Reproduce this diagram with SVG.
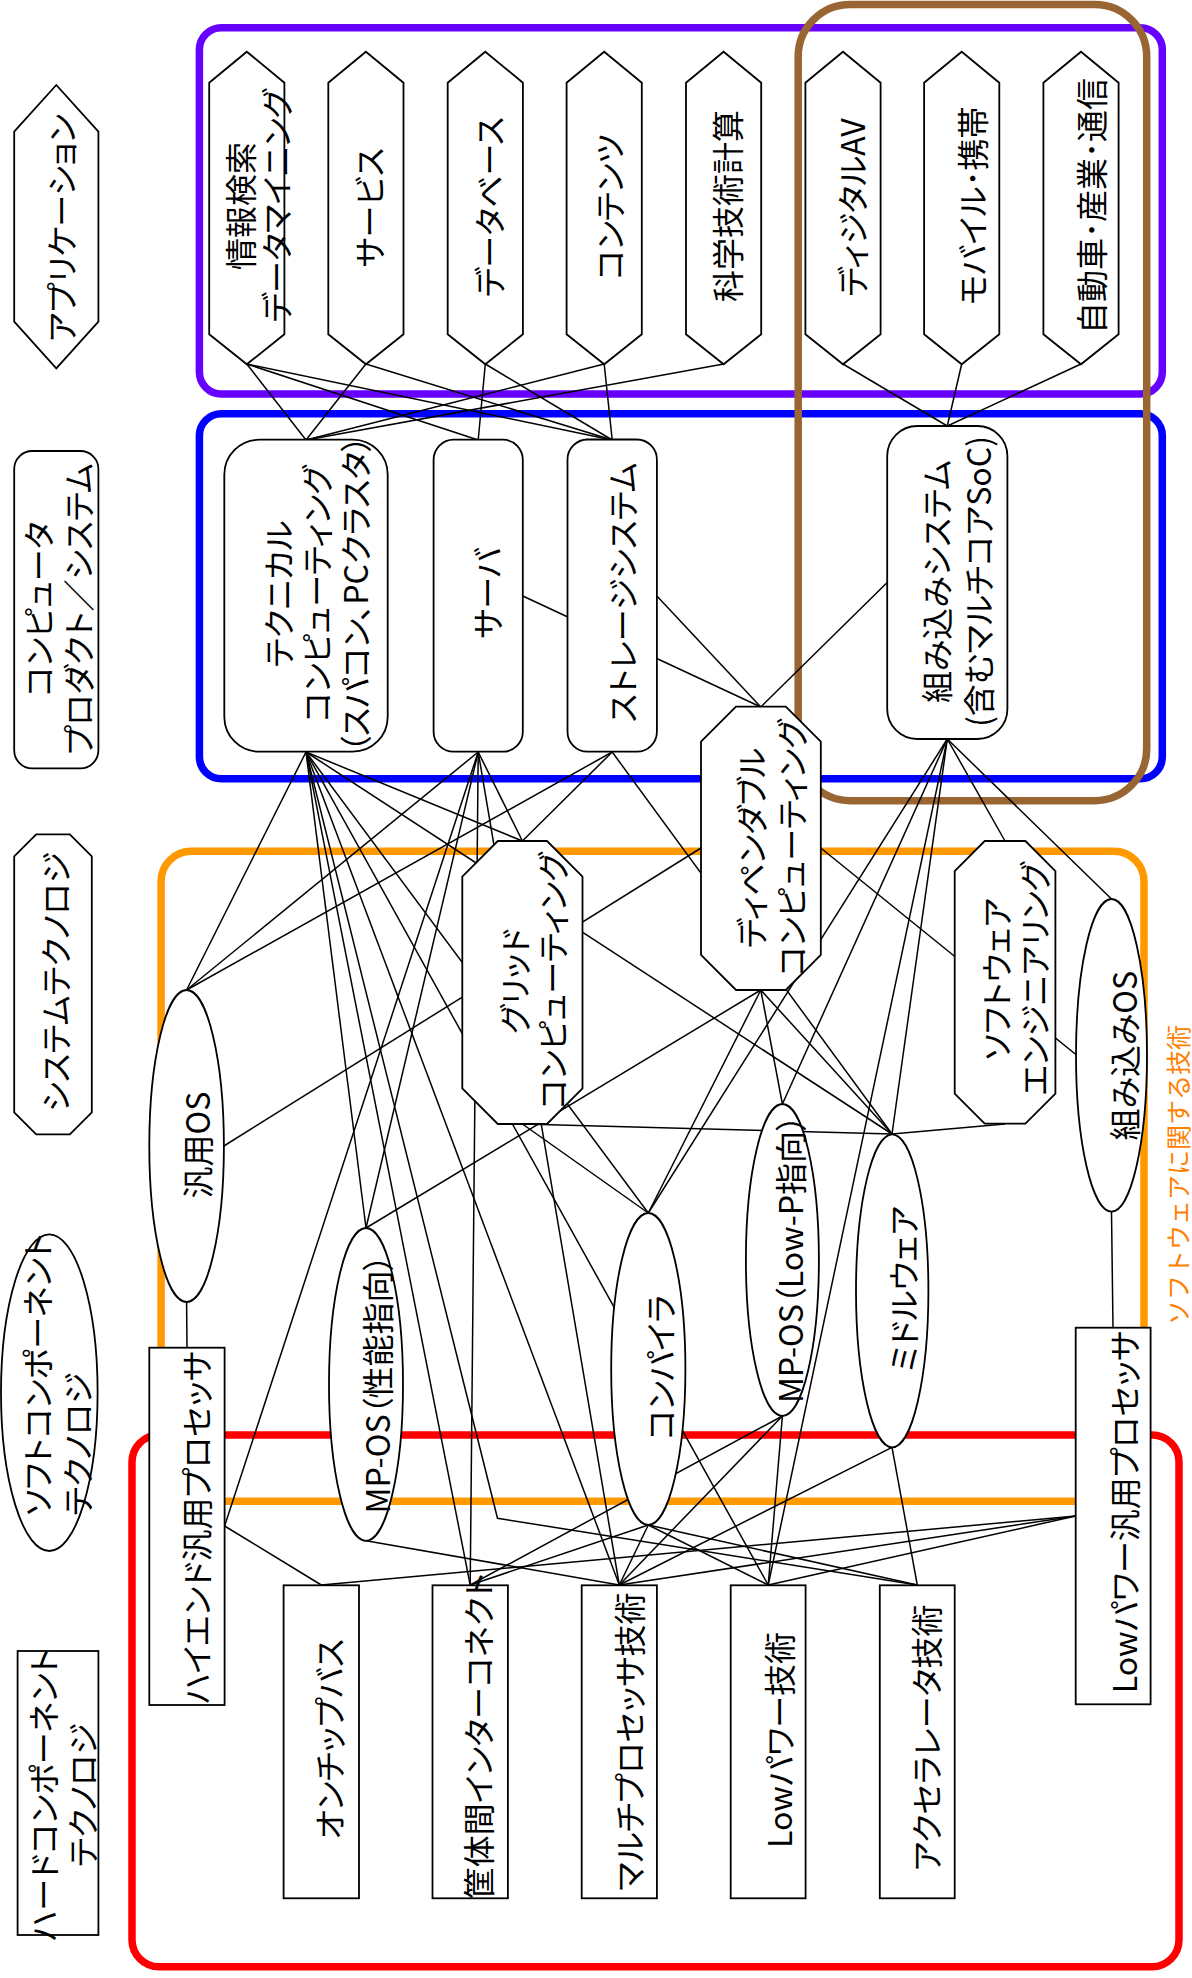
<svg xmlns="http://www.w3.org/2000/svg" width="1192" height="1978" viewBox="0 0 1192 1978">
<style>
.g{fill:none;stroke-width:7.5}
.n{fill:#fff;stroke:#000;stroke-width:1.8}
#connectors line,#connectors polyline{stroke:#000;stroke-width:1.5;fill:none}
text{font-family:"Noto Sans CJK JP","Noto Sans CJK SC",sans-serif;font-size:32px;text-anchor:middle;dominant-baseline:central;font-feature-settings:"palt";fill:#000}
text.o{fill:#FF8000;font-size:25px;font-feature-settings:normal}
</style>
<rect width="1192" height="1978" fill="#fff"/>
<g id="groups">
<rect class="g" x="199.4" y="27.7" width="962.9" height="366.3" rx="22" stroke="#6600FF"/>
<rect class="g" x="199.4" y="413.7" width="962.9" height="365.1" rx="22" stroke="#0000FF"/>
<rect class="g" x="161.1" y="851.3" width="982.9" height="650" rx="30" stroke="#FF9900"/>
<rect class="g" x="132" y="1435" width="1047" height="531.7" rx="27" stroke="#FF0000"/>
<rect class="g" x="798.2" y="4.5" width="348.5" height="796.2" rx="52" stroke="#996633"/>
<text class="o" transform="translate(1177,1175) rotate(-90)">ソフトウェアに関する技術</text>
</g>
<g id="connectors">
<line x1="246.8" y1="364" x2="306" y2="440"/>
<line x1="246.8" y1="364" x2="478.2" y2="440"/>
<line x1="246.8" y1="364" x2="612.2" y2="440"/>
<line x1="365.9" y1="364" x2="306" y2="440"/>
<line x1="365.9" y1="364" x2="612.2" y2="440"/>
<line x1="485.3" y1="364" x2="478.2" y2="440"/>
<line x1="485.3" y1="364" x2="612.2" y2="440"/>
<line x1="604.2" y1="364" x2="306" y2="440"/>
<line x1="604.2" y1="364" x2="612.2" y2="440"/>
<line x1="723.6" y1="364" x2="306" y2="440"/>
<line x1="843" y1="364" x2="947.3" y2="426"/>
<line x1="961.7" y1="364" x2="947.3" y2="426"/>
<line x1="1081" y1="364" x2="947.3" y2="426"/>
<line x1="522.8" y1="596" x2="760.8" y2="707"/>
<line x1="656.9" y1="596" x2="760.8" y2="707"/>
<line x1="887.2" y1="582.5" x2="760.8" y2="707"/>
<line x1="306" y1="752" x2="186.6" y2="990"/>
<line x1="306" y1="752" x2="522.4" y2="841"/>
<line x1="306" y1="752" x2="892" y2="1134"/>
<line x1="306" y1="752" x2="366" y2="1228"/>
<line x1="306" y1="752" x2="470.2" y2="1585"/>
<polyline points="306,752 497.5,1518.3 917.3,1585"/>
<line x1="306" y1="752" x2="619.3" y2="1585"/>
<line x1="306" y1="752" x2="768.2" y2="1585"/>
<line x1="306" y1="752" x2="648.3" y2="1213"/>
<line x1="478.2" y1="752" x2="186.6" y2="990"/>
<line x1="478.2" y1="752" x2="224.6" y2="1526"/>
<line x1="478.2" y1="752" x2="366" y2="1228"/>
<line x1="478.2" y1="752" x2="470.2" y2="1585"/>
<line x1="478.2" y1="752" x2="619.3" y2="1585"/>
<line x1="478.2" y1="752" x2="522.4" y2="841"/>
<line x1="612.2" y1="752" x2="186.6" y2="990"/>
<line x1="612.2" y1="752" x2="522.4" y2="841"/>
<line x1="612.2" y1="752" x2="892" y2="1134"/>
<line x1="947.3" y1="739" x2="648.3" y2="1213"/>
<line x1="947.3" y1="739" x2="782.4" y2="1104"/>
<line x1="947.3" y1="739" x2="768.2" y2="1585"/>
<line x1="947.3" y1="739" x2="892" y2="1134"/>
<line x1="947.3" y1="739" x2="1005" y2="841"/>
<line x1="947.3" y1="739" x2="1111.5" y2="899"/>
<line x1="223.9" y1="1146" x2="701" y2="848"/>
<line x1="820.8" y1="848" x2="1076.5" y2="1055"/>
<line x1="760.8" y1="990" x2="366" y2="1228"/>
<line x1="760.8" y1="990" x2="648.3" y2="1213"/>
<line x1="760.8" y1="990" x2="782.4" y2="1104"/>
<line x1="760.8" y1="990" x2="892" y2="1134"/>
<line x1="522.4" y1="1124" x2="648.3" y2="1213"/>
<line x1="522.4" y1="1124" x2="892" y2="1134"/>
<line x1="1005" y1="1124" x2="892" y2="1134"/>
<line x1="186.6" y1="1302" x2="187" y2="1347.7"/>
<line x1="1111.5" y1="1211.7" x2="1113" y2="1327.7"/>
<line x1="224.6" y1="1526" x2="321.3" y2="1585"/>
<line x1="366" y1="1540.7" x2="619.3" y2="1585"/>
<line x1="648.3" y1="1525" x2="470.2" y2="1585"/>
<line x1="648.3" y1="1525" x2="619.3" y2="1585"/>
<line x1="648.3" y1="1525" x2="768.2" y2="1585"/>
<line x1="648.3" y1="1525" x2="917.3" y2="1585"/>
<line x1="782.4" y1="1416" x2="470.2" y2="1585"/>
<line x1="782.4" y1="1416" x2="619.3" y2="1585"/>
<line x1="782.4" y1="1416" x2="768.2" y2="1585"/>
<line x1="892" y1="1447.3" x2="619.3" y2="1585"/>
<line x1="892" y1="1447.3" x2="917.3" y2="1585"/>
<line x1="1075.7" y1="1516" x2="321.3" y2="1585"/>
<line x1="1075.7" y1="1516" x2="619.3" y2="1585"/>
<line x1="1075.7" y1="1516" x2="768.2" y2="1585"/>
</g>
<g id="nodes">
<g id="label-app"><polygon class="n" points="56.3,85 98.4,131.7 98.4,321.7 56.3,368.3 14.2,321.7 14.2,131.7"/><text transform="translate(60,228) rotate(-90)">アプリケーション</text></g>
<g id="label-product"><rect class="n" x="14.2" y="451" width="84.2" height="317.3" rx="18"/><text transform="translate(57,609) rotate(-90)"><tspan x="0" y="-19.7">コンピュータ</tspan><tspan x="0" y="19.7">プロダクト／システム</tspan></text></g>
<g id="label-system"><polygon class="n" points="36.2,834.3 69.8,834.3 91.8,856.3 91.8,1112.3 69.8,1134.3 36.2,1134.3 14.2,1112.3 14.2,856.3"/><text transform="translate(53.6,982) rotate(-90)">システムテクノロジ</text></g>
<g id="label-soft"><ellipse class="n" cx="49.3" cy="1392.7" rx="48.3" ry="158.3"/><text transform="translate(56,1516) rotate(-90)" style="text-anchor:start"><tspan x="0" y="-19.6">ソフトコンポーネント</tspan><tspan x="0" y="19.6">テクノロジ</tspan></text></g>
<g id="label-hard"><rect class="n" x="17.6" y="1651" width="80.8" height="284"/><text transform="translate(61.7,1795) rotate(-90)"><tspan x="0" y="-19.7">ハードコンポーネント</tspan><tspan x="0" y="19.7">テクノロジ</tspan></text></g>

<g id="app-search"><polygon class="n" points="246.8,51.7 284.4,82.7 284.4,334.3 246.8,364.3 209.2,334.3 209.2,82.7"/><text transform="translate(256.8,206) rotate(-90)"><tspan x="0" y="-17.8">情報検索</tspan><tspan x="0" y="17.8">データマイニング</tspan></text></g>
<g id="app-service"><polygon class="n" points="365.9,51.7 403.5,82.7 403.5,334.3 365.9,364.3 328.3,334.3 328.3,82.7"/><text transform="translate(368.4,207.5) rotate(-90)">サービス</text></g>
<g id="app-db"><polygon class="n" points="485.3,51.7 522.9,82.7 522.9,334.3 485.3,364.3 447.7,334.3 447.7,82.7"/><text transform="translate(488,207) rotate(-90)">データベース</text></g>
<g id="app-contents"><polygon class="n" points="604.2,51.7 641.8,82.7 641.8,334.3 604.2,364.3 566.6,334.3 566.6,82.7"/><text transform="translate(608.3,207) rotate(-90)">コンテンツ</text></g>
<g id="app-science"><polygon class="n" points="723.6,51.7 761.2,82.7 761.2,334.3 723.6,364.3 686,334.3 686,82.7"/><text transform="translate(726.4,206) rotate(-90)">科学技術計算</text></g>
<g id="app-av"><polygon class="n" points="843,51.7 880.6,82.7 880.6,334.3 843,364.3 805.4,334.3 805.4,82.7"/><text transform="translate(851,207.5) rotate(-90)">ディジタルAV</text></g>
<g id="app-mobile"><polygon class="n" points="961.7,51.7 999.3,82.7 999.3,334.3 961.7,364.3 924.1,334.3 924.1,82.7"/><text transform="translate(971,206) rotate(-90)">モバイル･携帯</text></g>
<g id="app-auto"><polygon class="n" points="1081,51.7 1118.6,82.7 1118.6,334.3 1081,364.3 1043.4,334.3 1043.4,82.7"/><text transform="translate(1090,206) rotate(-90)">自動車･産業･通信</text></g>

<g id="comp-technical"><rect class="n" x="224.3" y="439.7" width="163.4" height="312" rx="35"/><text transform="translate(315,594) rotate(-90)"><tspan x="0" y="-38.5">テクニカル</tspan><tspan x="0" y="0">コンピューティング</tspan><tspan x="0" y="39">（スパコン、PCクラスタ）</tspan></text></g>
<g id="comp-server"><rect class="n" x="433.6" y="439.7" width="89.2" height="312" rx="20"/><text transform="translate(486,593) rotate(-90)">サーバ</text></g>
<g id="comp-storage"><rect class="n" x="567.5" y="439.5" width="89.4" height="312.2" rx="20"/><text transform="translate(621,592.5) rotate(-90)">ストレージシステム</text></g>
<g id="comp-embedded"><rect class="n" x="887.2" y="426" width="120.2" height="313" rx="30"/><text transform="translate(956,581.5) rotate(-90)"><tspan x="0" y="-21">組み込みシステム</tspan><tspan x="0" y="21">(含むマルチコアSoC)</tspan></text></g>

<g id="sys-grid"><polygon class="n" points="497.8,841 547,841 582.5,876.5 582.5,1088.5 547,1124 497.8,1124 462.3,1088.5 462.3,876.5"/><text transform="translate(531.7,981) rotate(-90)"><tspan x="0" y="-19.2">グリッド</tspan><tspan x="0" y="19.2">コンピューティング</tspan></text></g>
<g id="sys-dependable"><polygon class="n" points="736,706.7 785.8,706.7 820.8,741.7 820.8,955 785.8,990 736,990 701,955 701,741.7"/><text transform="translate(769.7,848) rotate(-90)"><tspan x="0" y="-20">ディペンダブル</tspan><tspan x="0" y="20">コンピューティング</tspan></text></g>
<g id="sys-se"><polygon class="n" points="984.7,841 1025.4,841 1055.4,871 1055.4,1093.7 1025.4,1123.7 984.7,1123.7 954.7,1093.7 954.7,871"/><text transform="translate(1013.7,979) rotate(-90)"><tspan x="0" y="-19">ソフトウェア</tspan><tspan x="0" y="19">エンジニアリング</tspan></text></g>

<g id="sw-os"><ellipse class="n" cx="186.6" cy="1146" rx="37.3" ry="156"/><text transform="translate(196,1145) rotate(-90)">汎用OS</text></g>
<g id="sw-mpos-perf"><ellipse class="n" cx="366" cy="1384.4" rx="37" ry="156.4"/><text transform="translate(376,1384) rotate(-90)">MP-OS（性能指向）</text></g>
<g id="sw-compiler"><ellipse class="n" cx="648.3" cy="1369" rx="37.1" ry="156"/><text transform="translate(659,1367.5) rotate(-90)">コンパイラ</text></g>
<g id="sw-mpos-lowp"><ellipse class="n" cx="782.4" cy="1260" rx="36.5" ry="156"/><text transform="translate(789,1259) rotate(-90)">MP-OS（Low-P指向）</text></g>
<g id="sw-middleware"><ellipse class="n" cx="892.2" cy="1290.8" rx="36.2" ry="156.5"/><text transform="translate(902,1289) rotate(-90)">ミドルウェア</text></g>
<g id="sw-embedded-os"><ellipse class="n" cx="1111.5" cy="1055.3" rx="35.5" ry="156.3"/><text transform="translate(1122.5,1055.7) rotate(-90)">組み込みOS</text></g>

<g id="hw-highend"><rect class="n" x="149.3" y="1347.7" width="75.3" height="357.3"/><text transform="translate(195,1527.5) rotate(-90)">ハイエンド汎用プロセッサ</text></g>
<g id="hw-lowpower-proc"><rect class="n" x="1075.7" y="1327.7" width="74.9" height="376.6"/><text transform="translate(1122.5,1512) rotate(-90)">Lowパワー汎用プロセッサ</text></g>
<g id="hw-onchip"><rect class="n" x="283.6" y="1585.3" width="75.4" height="313"/><text transform="translate(328,1739) rotate(-90)">オンチップバス</text></g>
<g id="hw-interconnect"><rect class="n" x="432.5" y="1585.3" width="75.4" height="313"/><text transform="translate(477,1736) rotate(-90)">筐体間インターコネクト</text></g>
<g id="hw-multiproc"><rect class="n" x="581.7" y="1585.3" width="75.2" height="313"/><text transform="translate(628,1741.7) rotate(-90)">マルチプロセッサ技術</text></g>
<g id="hw-lowpower"><rect class="n" x="730.7" y="1585.3" width="74.9" height="313"/><text transform="translate(778,1740) rotate(-90)">Lowパワー技術</text></g>
<g id="hw-accel"><rect class="n" x="879.8" y="1585.3" width="74.9" height="313"/><text transform="translate(925.4,1738) rotate(-90)">アクセラレータ技術</text></g>
</g>
</svg>
